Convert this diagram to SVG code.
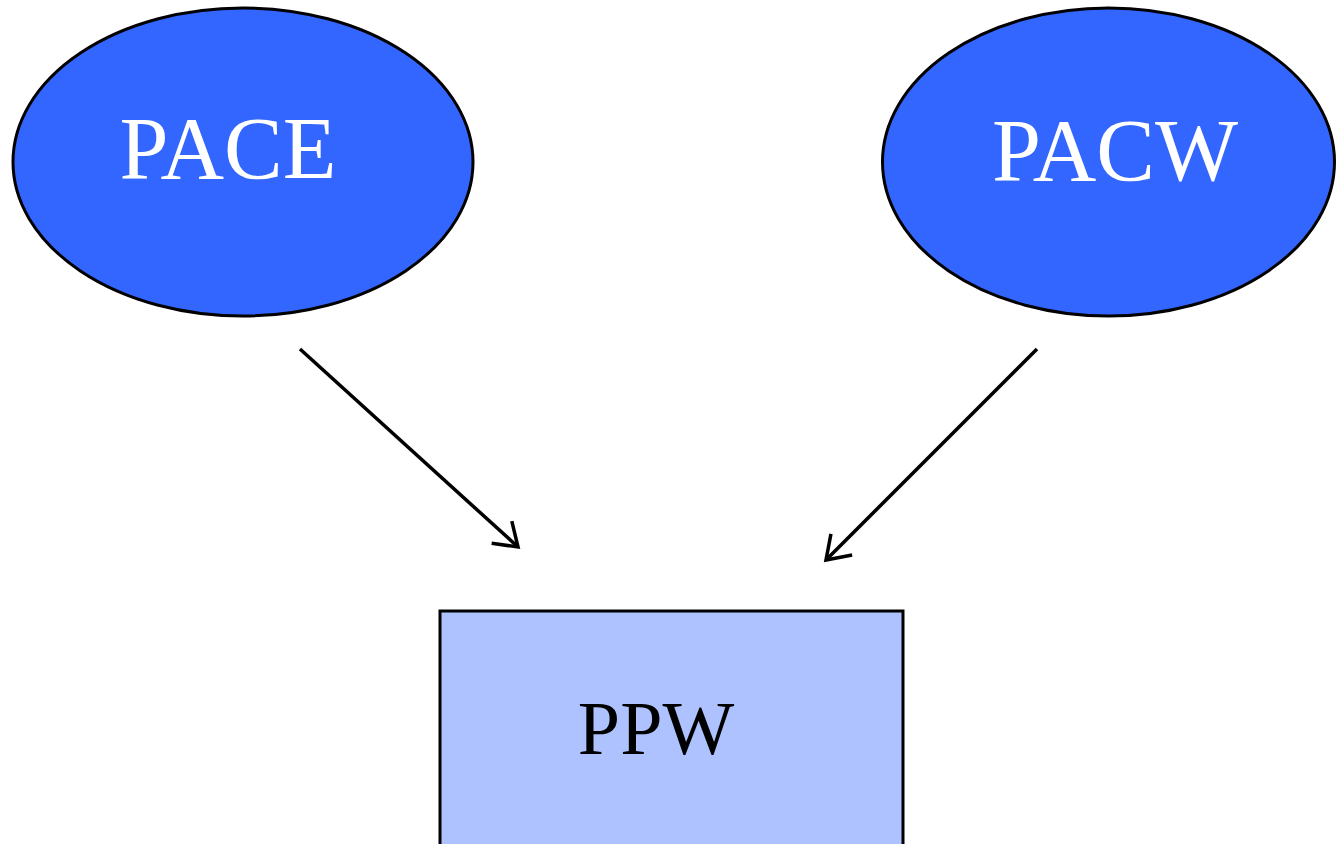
<svg xmlns="http://www.w3.org/2000/svg" width="1336" height="844" viewBox="0 0 1336 844">
<style>
.oval{fill:#3366ff;stroke:#000;stroke-width:3}
.box{fill:#adc2ff;stroke:#000;stroke-width:3}
.t{font-family:"Liberation Serif","Times New Roman",serif;text-anchor:middle}
.conn{stroke:#000;stroke-width:3.5;fill:none;marker-end:url(#ah)}
</style>
<defs>
<marker id="ah" markerWidth="12" markerHeight="12" refX="10" refY="6" orient="auto" markerUnits="userSpaceOnUse" viewBox="0 0 12 12" overflow="visible">
<path d="M-12,-9 L10,6 L-12,21" fill="none" stroke="#000" stroke-width="3.5" stroke-linejoin="miter"/>
</marker>
</defs>
<g id="PACE"><ellipse class="oval" cx="243" cy="162" rx="230" ry="154"/><text class="t" x="228" y="178" font-size="88" fill="#fff">PACE</text></g>
<g id="PACW"><ellipse class="oval" cx="1108.5" cy="162" rx="226" ry="154"/><text class="t" x="1115" y="180" font-size="88" fill="#fff">PACW</text></g>
<g id="PPW"><rect class="box" x="440" y="611" width="463" height="250"/><text class="t" x="656" y="754" font-size="76" fill="#000">PPW</text></g>
<g id="connectors">
<line class="conn" x1="300" y1="349" x2="518" y2="547"/>
<line class="conn" x1="1037" y1="349" x2="826" y2="560"/>
</g>
</svg>
